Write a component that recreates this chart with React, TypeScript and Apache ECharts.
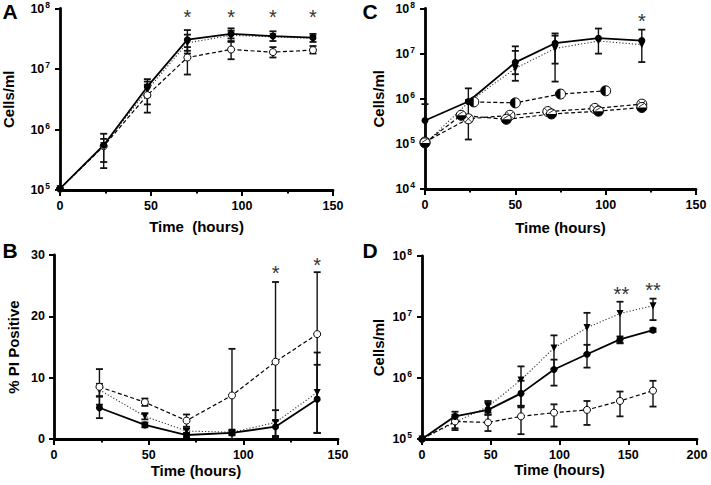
import React, { useEffect, useRef } from 'react';
import * as echarts from 'echarts';

const FONT = '"Liberation Sans", Arial, Helvetica, sans-serif';

// ---------- Panel A ----------
const timesA = [0, 24, 48, 70, 94, 117, 139];
const aSolid = [1.05e5, 5.5e5, 5.1e6, 3.05e7, 3.8e7, 3.5e7, 3.3e7];
const aSolidLow = [null, 2.9e5, 3.5e6, 2.0e7, 3.2e7, 2.9e7, 2.8e7];
const aSolidHigh = [null, 8.5e5, 6.8e6, 4.4e7, 4.7e7, 4.2e7, 3.8e7];
const aOpen = [1.05e5, 5.3e5, 3.7e6, 1.55e7, 2.1e7, 1.9e7, 2.05e7];
const aOpenLow = [null, 2.3e5, 1.9e6, 8.1e6, 1.45e7, 1.55e7, 1.8e7];
const aOpenHigh = [null, 7.0e5, 5.5e6, 2.3e7, 2.8e7, 2.3e7, 2.4e7];
const aTri = [1.05e5, 5.4e5, 4.5e6, 2.7e7, 3.6e7, 3.4e7, 3.2e7];
const aTriLow = [null, null, 2.6e6, 1.8e7, 2.9e7, null, null];
const aTriHigh = [null, null, 6.2e6, 3.7e7, 4.3e7, null, null];
const aStarTimes = [70, 94, 117, 139];
const aStarY = [7.3e7, 7.3e7, 7.3e7, 7.3e7];

// ---------- Panel B ----------
const timesB = [24, 48, 70, 94, 117, 139];
const bSolid = [5.1, 2.3, 0.65, 1.0, 2.0, 6.5];
const bSolidLow = [3.4, 1.9, 0.3, 0.6, 0.4, 1.0];
const bSolidHigh = [6.9, 2.7, 1.0, 1.4, 3.0, 12.1];
const bOpen = [8.5, 6.0, 3.0, 7.1, 12.6, 17.1];
const bOpenLow = [5.6, 5.4, 2.0, 0.0, 0.3, 1.0];
const bOpenHigh = [11.4, 6.6, 4.0, 14.7, 25.6, 27.2];
const bTri = [8.0, 3.7, 1.3, 1.1, 2.7, 7.6];
const bTriLow = [7.0, 3.2, 0.9, 0.8, 0.5, 1.0];
const bTriHigh = [9.0, 4.2, 1.7, 1.4, 4.7, 14.1];
const bStarTimes = [117, 139];
const bStarY = [27.0, 28.4];

// ---------- Panel C ----------
const timesC = [0, 24, 50, 72, 96, 120];
const cSolid = [3.3e5, 8.7e5, 6.4e6, 1.7e7, 2.2e7, 1.95e7];
const cSolidLow = [1.3e5, 1.25e5, 3.5e6, 2.4e6, 1.0e7, 6.5e6];
const cSolidHigh = [7.6e5, 1.7e6, 1.45e7, 2.8e7, 3.6e7, 3.4e7];
const cTri = [1.0e5, 8.3e5, 4.7e6, 1.3e7, 1.9e7, 1.58e7];
const cTriLow = [null, null, 2.5e6, 6.0e6, null, null];
const cTriHigh = [null, null, 1.15e7, 2.5e7, null, null];
const timesCHalf = [27, 50, 75, 100];
const cHalf = [8.5e5, 8.1e5, 1.27e6, 1.5e6];
const timesCBottom = [0, 20, 45, 70, 96, 120];
const cBottom = [1.05e5, 4.3e5, 3.5e5, 4.6e5, 5.3e5, 6.4e5];
const timesCCross = [0, 24, 47, 68, 94, 120];
const cCross = [1.1e5, 3.6e5, 4.3e5, 5.2e5, 6.1e5, 7.6e5];
const cStarTimes = [120];
const cStarY = [5.4e7];

// ---------- Panel D ----------
const timesD = [0, 24, 48, 72, 96, 120, 144, 168];
const dSolid = [1.0e5, 2.35e5, 3.0e5, 5.6e5, 1.38e6, 2.45e6, 4.3e6, 6.1e6];
const dSolidLow = [null, 1.9e5, 2.5e5, 3.3e5, 7.5e5, 1.48e6, 3.8e6, 5.7e6];
const dSolidHigh = [null, 2.8e5, 4.0e5, 9.0e5, 2.0e6, 3.5e6, 4.8e6, 6.5e6];
const dTri = [1.0e5, 1.87e5, 3.4e5, 9.3e5, 3.1e6, 6.7e6, 1.14e7, 1.53e7];
const dTriLow = [null, 1.4e5, 2.5e5, 3.5e5, 1.4e6, 2.5e6, 3.7e6, 8.9e6];
const dTriHigh = [null, 2.5e5, 4.2e5, 1.55e6, 5.0e6, 1.17e7, 1.78e7, 2.0e7];
const dOpen = [1.0e5, 1.94e5, 1.87e5, 2.35e5, 2.7e5, 3.0e5, 4.2e5, 6.2e5];
const dOpenLow = [null, 1.5e5, 1.35e5, 1.2e5, 1.6e5, 1.7e5, 2.35e5, 3.4e5];
const dOpenHigh = [null, 2.3e5, 2.7e5, 3.5e5, 3.7e5, 4.2e5, 6.0e5, 9.0e5];
const dStarTimes = [145, 168];
const dStarY = [2.4e7, 2.75e7];

const panelLetters = ['A', 'B', 'C', 'D'];
const xTitles = ['Time  (hours)', 'Time (hours)', 'Time (hours)', 'Time (hours)'];
const yTitles = ['Cells/ml', '% PI Positive', 'Cells/ml', 'Cells/ml'];

const pairs = (xs: number[], ys: (number | null)[]) =>
  xs.map((x, i) => [x, ys[i]]).filter((p) => p[1] != null);

function lineSeries(idx: number, xs: number[], ys: number[], kind: 'solid' | 'open' | 'tri' | 'none', dash: 'solid' | 'dashed' | 'dotted') {
  const lineType = dash === 'solid' ? 'solid' : dash === 'dashed' ? [4, 2.5] : [1.2, 2];
  const lineColor = dash === 'dotted' ? '#333' : '#000';
  const lineWidth = dash === 'solid' ? 1.8 : dash === 'dashed' ? 1.2 : 1.1;
  let symbol: any = 'none';
  let symbolSize = 6;
  let symbolRotate = 0;
  let itemStyle: any = { color: '#000' };
  if (kind === 'solid') { symbol = 'circle'; symbolSize = 7; }
  if (kind === 'open') { symbol = 'circle'; symbolSize = 7; itemStyle = { color: '#fff', borderColor: '#000', borderWidth: 1 }; }
  if (kind === 'tri') { symbol = 'triangle'; symbolSize = 7; symbolRotate = 180; }
  return {
    type: 'line',
    xAxisIndex: idx,
    yAxisIndex: idx,
    data: pairs(xs, ys),
    symbol,
    symbolSize,
    symbolRotate,
    showSymbol: kind !== 'none',
    itemStyle,
    lineStyle: { color: lineColor, width: lineWidth, type: lineType },
    silent: true,
    z: 4,
  };
}

function errorSeries(idx: number, xs: number[], lo: (number | null)[], hi: (number | null)[]) {
  const data = xs
    .map((x, i) => (lo[i] == null || hi[i] == null ? null : [x, lo[i], hi[i]]))
    .filter((d) => d != null);
  return {
    type: 'custom',
    xAxisIndex: idx,
    yAxisIndex: idx,
    data,
    silent: true,
    z: 3,
    encode: { x: 0, y: [1, 2] },
    renderItem: (_p: any, api: any) => {
      const a = api.coord([api.value(0), api.value(1)]);
      const b = api.coord([api.value(0), api.value(2)]);
      const w = 3.5;
      const st = { stroke: '#111', lineWidth: 1.4 };
      return {
        type: 'group',
        children: [
          { type: 'line', shape: { x1: a[0], y1: a[1], x2: b[0], y2: b[1] }, style: st },
          { type: 'line', shape: { x1: a[0] - w, y1: a[1], x2: a[0] + w, y2: a[1] }, style: { stroke: '#111', lineWidth: 1.8 } },
          { type: 'line', shape: { x1: b[0] - w, y1: b[1], x2: b[0] + w, y2: b[1] }, style: { stroke: '#111', lineWidth: 1.8 } },
        ],
      };
    },
  };
}

function markerSeries(idx: number, xs: number[], ys: number[], kind: 'left' | 'bottom' | 'cross') {
  return {
    type: 'custom',
    xAxisIndex: idx,
    yAxisIndex: idx,
    data: pairs(xs, ys),
    silent: true,
    z: 5,
    renderItem: (_p: any, api: any) => {
      const c = api.coord([api.value(0), api.value(1)]);
      const r = 5;
      const cx = c[0];
      const cy = c[1];
      const children: any[] = [
        { type: 'circle', shape: { cx, cy, r }, style: { fill: '#fff', stroke: '#000', lineWidth: 1 } },
      ];
      if (kind === 'left') {
        children.push({ type: 'sector', shape: { cx, cy, r0: 0, r, startAngle: Math.PI / 2, endAngle: Math.PI * 1.5 }, style: { fill: '#000' } });
      } else if (kind === 'bottom') {
        children.push({ type: 'sector', shape: { cx, cy, r0: 0, r, startAngle: 0, endAngle: Math.PI }, style: { fill: '#000' } });
        children.push({ type: 'line', shape: { x1: cx - 3, y1: cy - 0.5, x2: cx + 2.5, y2: cy - 4 }, style: { stroke: '#000', lineWidth: 0.8 } });
      } else {
        const d = r * 0.7;
        children.push({ type: 'line', shape: { x1: cx - d, y1: cy - d, x2: cx + d, y2: cy + d }, style: { stroke: '#000', lineWidth: 0.8 } });
        children.push({ type: 'line', shape: { x1: cx - d, y1: cy + d, x2: cx + d, y2: cy - d }, style: { stroke: '#000', lineWidth: 0.8 } });
      }
      return { type: 'group', children };
    },
  };
}

function starSeries(idx: number, xs: number[], ys: number[], text: string) {
  return {
    type: 'custom',
    xAxisIndex: idx,
    yAxisIndex: idx,
    data: pairs(xs, ys),
    silent: true,
    z: 6,
    renderItem: (_p: any, api: any) => {
      const c = api.coord([api.value(0), api.value(1)]);
      return {
        type: 'text',
        x: c[0],
        y: c[1],
        style: {
          text,
          fill: '#333',
          font: `normal 20px ${FONT}`,
          textAlign: 'center',
          textVerticalAlign: 'middle',
        },
      };
    },
  };
}

const grids = [
  { left: 58, top: 8, width: 275, height: 182 },
  { left: 54, top: 255, width: 284, height: 184 },
  { left: 425, top: 8, width: 271, height: 181 },
  { left: 422, top: 256, width: 275, height: 183 },
];
const xMax = [150, 150, 150, 200];
const xNameGap = [29, 24, 31, 23];
const yNameGap = [44, 33, 39, 36];

const axisLine = { show: true, onZero: false, lineStyle: { color: '#000', width: 2.8 } };
const tickStyle = { color: '#000', width: 2 };
const labelBase = { color: '#000', fontFamily: FONT, fontWeight: 'bold', fontSize: 12.5 };
const nameStyle = { color: '#000', fontFamily: FONT, fontWeight: 'bold', fontSize: 15 };

const supRich = {
  b: { fontFamily: FONT, fontWeight: 'bold', fontSize: 12.5, color: '#000', lineHeight: 17 },
  s: { fontFamily: FONT, fontWeight: 'bold', fontSize: 8.5, color: '#000', verticalAlign: 'top', lineHeight: 17, padding: [0, 0, 0, 1] },
};

export default function App() {
  const ref = useRef<HTMLDivElement>(null);
  useEffect(() => {
    if (!ref.current) return;
    const chart = echarts.init(ref.current, undefined, { renderer: 'svg' });

    const xAxis = grids.map((_, i) => ({
      type: 'value',
      gridIndex: i,
      min: 0,
      max: xMax[i],
      interval: 50,
      name: xTitles[i],
      nameLocation: 'middle',
      nameGap: xNameGap[i],
      nameTextStyle: nameStyle,
      axisLine,
      axisTick: { show: true, length: 6, lineStyle: tickStyle },
      minorTick: { show: i !== 3, splitNumber: 2, length: 3.5, lineStyle: tickStyle },
      axisLabel: { ...labelBase, margin: 9 },
      splitLine: { show: false },
      minorSplitLine: { show: false },
    }));

    const logY = (i: number, min: number) => ({
      type: 'log',
      logBase: 10,
      gridIndex: i,
      min,
      max: 1e8,
      name: yTitles[i],
      nameLocation: 'middle',
      nameGap: yNameGap[i],
      nameRotate: 90,
      nameTextStyle: nameStyle,
      axisLine,
      axisTick: { show: true, length: 5, lineStyle: tickStyle },
      axisLabel: {
        margin: 10,
        formatter: (v: number) => `{b|10}{s|${Math.round(Math.log10(v))}}`,
        rich: supRich,
      },
      splitLine: { show: false },
      minorSplitLine: { show: false },
    });

    const yAxis = [
      logY(0, 1e5),
      {
        type: 'value',
        gridIndex: 1,
        min: 0,
        max: 30,
        interval: 10,
        name: yTitles[1],
        nameLocation: 'middle',
        nameGap: yNameGap[1],
        nameRotate: 90,
        nameTextStyle: nameStyle,
        axisLine,
        axisTick: { show: true, length: 5, lineStyle: tickStyle },
        axisLabel: { ...labelBase, margin: 9 },
        splitLine: { show: false },
      },
      logY(2, 1e4),
      logY(3, 1e5),
    ];

    const series: any[] = [
      // A
      errorSeries(0, timesA, aOpenLow, aOpenHigh),
      errorSeries(0, timesA, aTriLow, aTriHigh),
      errorSeries(0, timesA, aSolidLow, aSolidHigh),
      lineSeries(0, timesA, aTri, 'tri', 'dotted'),
      lineSeries(0, timesA, aOpen, 'open', 'dashed'),
      lineSeries(0, timesA, aSolid, 'solid', 'solid'),
      starSeries(0, aStarTimes, aStarY, '*'),
      // B
      errorSeries(1, timesB, bOpenLow, bOpenHigh),
      errorSeries(1, timesB, bTriLow, bTriHigh),
      errorSeries(1, timesB, bSolidLow, bSolidHigh),
      lineSeries(1, timesB, bTri, 'tri', 'dotted'),
      lineSeries(1, timesB, bOpen, 'open', 'dashed'),
      lineSeries(1, timesB, bSolid, 'solid', 'solid'),
      starSeries(1, bStarTimes, bStarY, '*'),
      // C
      errorSeries(2, timesC, cTriLow, cTriHigh),
      errorSeries(2, timesC, cSolidLow, cSolidHigh),
      lineSeries(2, timesC, cTri, 'tri', 'dotted'),
      lineSeries(2, timesC, cSolid, 'solid', 'solid'),
      lineSeries(2, timesCHalf, cHalf, 'none', 'dashed'),
      lineSeries(2, timesCBottom, cBottom, 'none', 'dashed'),
      lineSeries(2, timesCCross, cCross, 'none', 'dashed'),
      markerSeries(2, timesCCross, cCross, 'cross'),
      markerSeries(2, timesCBottom, cBottom, 'bottom'),
      markerSeries(2, timesCHalf, cHalf, 'left'),
      starSeries(2, cStarTimes, cStarY, '*'),
      // D
      errorSeries(3, timesD, dOpenLow, dOpenHigh),
      errorSeries(3, timesD, dTriLow, dTriHigh),
      errorSeries(3, timesD, dSolidLow, dSolidHigh),
      lineSeries(3, timesD, dTri, 'tri', 'dotted'),
      lineSeries(3, timesD, dOpen, 'open', 'dashed'),
      lineSeries(3, timesD, dSolid, 'solid', 'solid'),
      starSeries(3, dStarTimes, dStarY, '**'),
    ];

    const letterPos = [
      [10, 11],
      [10, 250],
      [370, 11],
      [370, 250],
    ];

    chart.setOption({
      animation: false,
      backgroundColor: '#fff',
      grid: grids.map((g) => ({ ...g, containLabel: false })),
      xAxis,
      yAxis,
      series,
      graphic: panelLetters.map((t, i) => ({
        type: 'text',
        x: letterPos[i][0],
        y: letterPos[i][1],
        style: {
          text: t,
          fill: '#000',
          font: `bold 21px ${FONT}`,
          textAlign: 'center',
          textVerticalAlign: 'middle',
        },
      })),
    });

    return () => chart.dispose();
  }, []);

  return (
    <div
      ref={ref}
      style={{ position: 'fixed', left: 0, top: 0, width: 711, height: 485, background: '#fff' }}
    />
  );
}
